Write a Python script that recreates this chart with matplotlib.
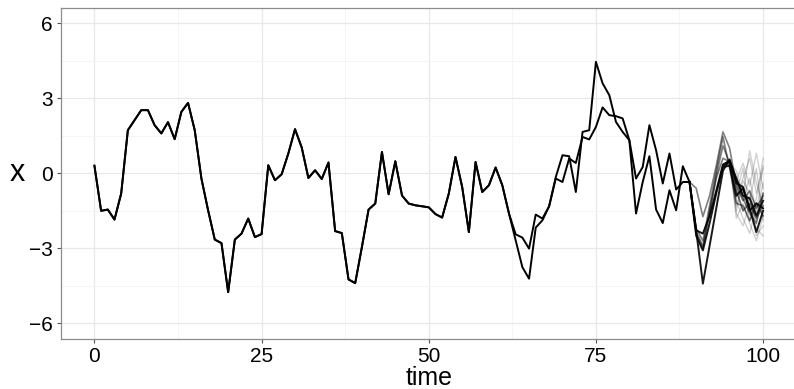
import numpy as np
import matplotlib
matplotlib.use("Agg")
import matplotlib.pyplot as plt

# -----------------------------
# series values
# -----------------------------
# shared part of both observed series, t = 0..62
x_common = [0.30, -1.50, -1.45, -1.85, -0.81, 1.72, 2.12, 2.52, 2.52, 1.92,
            1.59, 2.04, 1.36, 2.45, 2.81, 1.72, -0.21, -1.48, -2.65, -2.79,
            -4.75, -2.65, -2.41, -1.81, -2.55, -2.43, 0.32, -0.28, -0.04, 0.79,
            1.76, 1.03, -0.19, 0.12, -0.23, 0.43, -2.31, -2.39, -4.24, -4.39,
            -2.95, -1.45, -1.21, 0.85, -0.84, 0.48, -0.89, -1.21, -1.28, -1.32,
            -1.36, -1.63, -1.77, -0.81, 0.65, -0.55, -2.35, 0.45, -0.75, -0.48,
            0.23, -0.48, -1.61]

# t = 63..89, where the two series part ways
x_a_tail = [-2.68, -3.75, -4.21, -2.17, -1.88, -1.32, -0.15, 0.72, 0.68, -0.75,
            1.65, 1.72, 4.45, 3.59, 3.12, 2.05, 1.65, 1.32, -1.61, -0.35,
            0.68, -1.45, -1.99, -0.68, -1.48, 0.28, -0.35]
x_b_tail = [-2.44, -2.57, -3.01, -1.65, -1.81, -1.32, -0.21, -0.35, 0.59, 0.41,
            1.45, 1.35, 1.85, 2.63, 2.32, 2.28, 2.19, 1.32, -0.21, 0.25,
            1.92, 0.92, -0.41, 0.79, -0.65, -0.35, -0.35]

# simulated continuations, t = 89..100
sim_dark = [
    [-0.35, -2.30, -4.41, -2.90, -1.40, 0.10, 0.55, -0.40, -0.55, -1.40, -2.35, -1.50],
    [-0.35, -2.28, -2.41, -1.70, -0.70, 0.35, 0.50, -0.20, -0.90, -1.00, -1.70, -1.10],
    [-0.35, -2.50, -3.08, -2.00, -0.80, 0.25, 0.30, -0.90, -0.60, -1.50, -1.20, -1.40],
]
sim_mid = [
    [-0.35, -0.60, -1.73, -0.90, 0.30, 1.65, 1.00, -0.50, -1.10, -0.70, -1.40, -0.90],
    [-0.35, -2.20, -2.70, -1.30, 0.10, 1.45, 0.20, -1.20, -1.30, -1.90, -1.20, -1.70],
    [-0.35, -2.35, -2.90, -1.60, -0.10, 1.10, 0.40, -0.30, -1.00, -1.60, -2.00, -0.80],
    [-0.35, -2.40, -3.00, -1.50, -0.20, 0.60, 0.45, -0.70, -1.50, -1.20, -1.80, -1.30],
]
# faint paths, t = 94..100
sim_light = [
    [0.30, 0.50, -0.30, 0.40, -0.50, 0.80, -0.60],
    [0.30, 0.40, -1.00, -0.20, 0.60, -0.80, 0.20],
    [0.30, 0.55, -1.80, -1.20, -2.00, -2.70, -1.70],
    [0.30, 0.45, -0.60, -1.50, -0.90, -2.20, -2.50],
    [0.30, 0.50, -1.30, -0.50, -1.90, -1.00, 0.60],
    [0.30, 0.40, 0.10, -0.90, 0.90, -0.40, -1.30],
    [0.30, 0.50, -1.60, -2.10, -1.20, -1.90, -0.80],
    [0.30, 0.45, -0.80, 0.20, -1.40, -2.50, -2.10],
    [0.30, 0.50, -0.40, -1.00, -0.20, -1.60, 0.30],
    [0.30, 0.40, -1.10, -1.80, -2.40, -1.30, -1.00],
    [0.30, 0.50, -0.20, -0.70, -1.10, 0.20, -1.90],
    [0.30, 0.45, -1.50, -0.30, -0.80, -1.70, -0.40],
]

x_ticks = [0, 25, 50, 75, 100]
y_ticks = [-6, -3, 0, 3, 6]

# -----------------------------
# figure
# -----------------------------
plt.rcParams["font.family"] = ["Liberation Sans", "DejaVu Sans"]
fig = plt.figure(figsize=(7.94, 3.89), dpi=100)
ax = fig.add_axes([61 / 794, 1 - 339 / 389, 735.5 / 794, 331 / 389])

x_a = np.array(x_common + x_a_tail)
x_b = np.array(x_common + x_b_tail)
t_obs = np.arange(len(x_a))
t_sim = np.arange(89, 101)
t_light = np.arange(94, 101)

for path in sim_light:
    ax.plot(t_light, path, color="black", alpha=0.18, lw=1.0, zorder=2)
for path in sim_mid:
    ax.plot(t_sim, path, color="black", alpha=0.5, lw=1.2, zorder=3)
for path in sim_dark:
    ax.plot(t_sim, path, color="black", alpha=0.9, lw=1.4, zorder=4)

ax.plot(t_obs, x_a, color="black", lw=1.4, zorder=5)
ax.plot(t_obs, x_b, color="black", lw=1.4, zorder=5)

ax.set_xlim(-5, 105)
ax.set_ylim(-6.62, 6.6)
ax.set_xticks(x_ticks)
ax.set_yticks(y_ticks)
ax.set_xticks([12.5, 37.5, 62.5, 87.5], minor=True)
ax.set_yticks([-4.5, -1.5, 1.5, 4.5], minor=True)
ax.set_yticklabels(["\u22126", "\u22123", "0", "3", "6"])

ax.grid(True, which="major", color="#e8e8e8", lw=0.9)
ax.grid(True, which="minor", color="#f4f4f4", lw=0.6)
ax.set_axisbelow(True)

for side in ["top", "bottom", "left", "right"]:
    ax.spines[side].set_color("#8c8c8c")
    ax.spines[side].set_linewidth(0.9)

ax.tick_params(which="major", direction="out", length=3, width=0.8,
               color="#555555", labelsize=15, labelcolor="black", pad=3)
ax.tick_params(which="minor", length=0)
for lbl in ax.get_xticklabels():
    lbl.set_fontsize(15)

ax.set_xlabel("time", fontsize=18, labelpad=0)
ax.set_ylabel("x", fontsize=22, rotation=0, va="center", labelpad=8)

plt.savefig("out.png", dpi=100)
plt.close()
